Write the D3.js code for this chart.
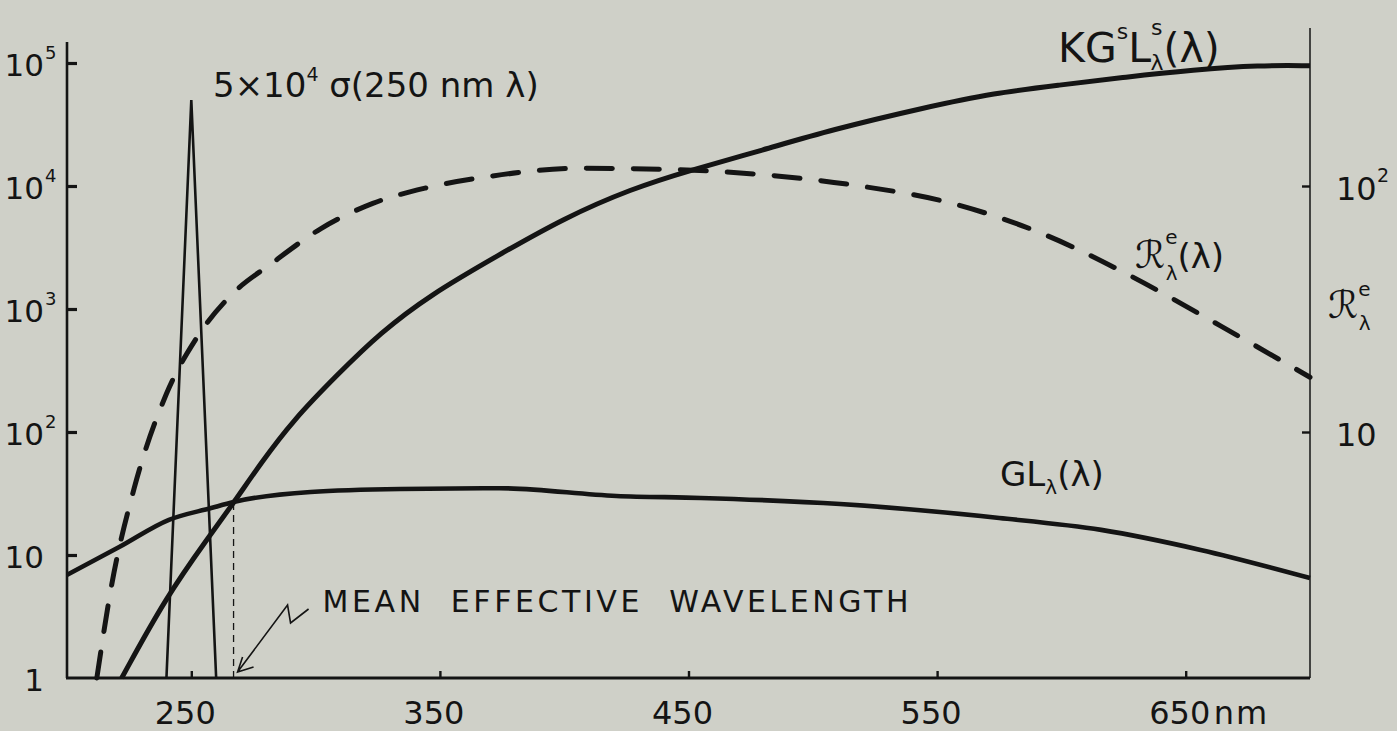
<!DOCTYPE html>
<html>
<head>
<meta charset="utf-8">
<script src="https://cdn.jsdelivr.net/npm/d3@7"></script>
<style>
body { margin: 0; background: #cfd0c8; }
svg { display: block; }
text { font-family: "DejaVu Sans", sans-serif; fill: #141414; }
</style>
</head>
<body>
<div id="chart"></div>
<script>
// wavelength (nm) / value pairs
// G L_lambda(lambda), left log axis
var glWave = [200, 221, 241, 258, 267, 298, 334, 374, 421, 455, 511, 575, 616, 656, 700];
var glValue = [6.9, 11.6, 19.3, 24.1, 27.0, 32.5, 34.4, 34.9, 30.2, 29.1, 26.0, 20.0, 16.0, 11.0, 6.5];
// K G^s L^s_lambda(lambda), left log axis
var kgWave = [222, 240, 257, 267, 278, 291, 309, 326, 346, 373, 400, 427, 451, 480, 507, 546, 573, 599, 626, 653, 680, 700];
var kgValue = [1, 4.6, 14, 26.5, 56, 125, 296, 640, 1300, 2700, 5500, 9500, 13500, 19600, 28500, 43900, 57000, 66000, 77000, 88000, 96000, 95000];
// R^e_lambda(lambda), right log axis
var reWave = [212, 218, 227, 240, 252, 266, 283, 302, 323, 344, 369, 406, 439, 476, 516, 556, 594, 628, 664, 700];
var reValue = [1, 2.4, 5.9, 14.3, 24, 36, 49, 67, 85, 98, 109, 118, 117, 112, 101, 85, 63, 43, 27, 16.7];
// 5x10^4 sigma(250 nm lambda) triangle
var spikeWave = [240, 250, 260];
var spikeValue = [1, 50000, 1];
// mean effective wavelength (GL and KG cross here)
var meanWave = 267;
var meanValue = 27;

var xTicks = [250, 350, 450, 550, 650];
var xTickLabels = ["250", "350", "450", "550", "650"];
var leftTicks = [1, 10, 100, 1000, 10000, 100000];
var leftTickBase = ["1", "10", "10", "10", "10", "10"];
var leftTickExp = ["", "", "2", "3", "4", "5"];
var rightTicks = [10, 100];
var rightTickBase = ["10", "10"];
var rightTickExp = ["", "2"];

var width = 1397, height = 731;
var ink = "#141414";

var svg = d3.select("#chart").append("svg")
	.attr("width", width).attr("height", height);

var x = d3.scaleLinear().domain([200, 700]).range([67, 1310]);
var y = d3.scaleLog().domain([1, 1e5]).range([678, 63]);
// right axis: one decade of R^e spans two decades of the left axis
var yR = d3.scaleLog().domain([1, Math.sqrt(1e5)]).range(y.range());

function pairs(w, v) {
	return w.map(function(d, i) { return [d, v[i]]; });
}

// ---- axes ----
var axisG = svg.append("g");
// left
axisG.append("line").attr("x1", x(200)).attr("x2", x(200))
	.attr("y1", 42).attr("y2", y(1))
	.attr("stroke", ink).attr("stroke-width", 2.6);
var leftAxis = axisG.append("g").attr("transform", "translate(" + x(200) + ",0)")
	.call(d3.axisRight(y).tickValues(leftTicks.slice(1)).tickSize(10).tickSizeOuter(0).tickFormat(""));
leftAxis.select(".domain").remove();
leftAxis.selectAll(".tick line").attr("stroke", ink).attr("stroke-width", 3.2);
// bottom
axisG.append("line").attr("x1", x(200) - 1).attr("x2", x(700))
	.attr("y1", y(1)).attr("y2", y(1))
	.attr("stroke", ink).attr("stroke-width", 3);
var bottomAxis = axisG.append("g").attr("transform", "translate(0," + y(1) + ")")
	.call(d3.axisTop(x).tickValues(xTicks).tickSize(7).tickSizeOuter(0).tickFormat(""));
bottomAxis.select(".domain").remove();
bottomAxis.selectAll(".tick line").attr("stroke", ink).attr("stroke-width", 2.4);
// right
axisG.append("line").attr("x1", x(700)).attr("x2", x(700))
	.attr("y1", 28).attr("y2", y(1))
	.attr("stroke", ink).attr("stroke-width", 1.5);
var rightAxis = axisG.append("g").attr("transform", "translate(" + x(700) + ",0)")
	.call(d3.axisLeft(yR).tickValues(rightTicks).tickSize(8).tickSizeOuter(0).tickFormat(""));
rightAxis.select(".domain").remove();
rightAxis.selectAll(".tick line").attr("stroke", ink).attr("stroke-width", 2.4);

// tick labels
leftTicks.forEach(function(t, i) {
	var ty = y(t) + 13;
	svg.append("text").attr("x", 44).attr("y", ty)
		.attr("text-anchor", "end").attr("font-size", 31).text(leftTickBase[i]);
	if (leftTickExp[i]) {
		svg.append("text").attr("x", 45).attr("y", ty - 17)
			.attr("font-size", 18).text(leftTickExp[i]);
	}
});
rightTicks.forEach(function(t, i) {
	var ty = yR(t) + 14;
	var tx = 1336;
	svg.append("text").attr("x", tx).attr("y", ty)
		.attr("font-size", 32).text(rightTickBase[i]);
	if (rightTickExp[i]) {
		svg.append("text").attr("x", tx + 41).attr("y", ty - 18)
			.attr("font-size", 19).text(rightTickExp[i]);
	}
});
xTicks.forEach(function(t, i) {
	svg.append("text").attr("x", x(t) - 6).attr("y", 724)
		.attr("text-anchor", "middle").attr("font-size", 32).text(xTickLabels[i]);
});
svg.append("text").attr("x", x(650) + 28).attr("y", 724)
	.attr("font-size", 32).attr("letter-spacing", 2).text("nm");

// right axis title R^e_lambda
var rLab = svg.append("text").attr("x", 1328).attr("y", 318).attr("font-size", 38);
rLab.append("tspan").attr("font-style", "italic").text("\u211B");
rLab.append("tspan").attr("font-size", 20).attr("dy", -22).text("e");
rLab.append("tspan").attr("font-size", 20).attr("dx", -12).attr("dy", 34).text("\u03BB");

// ---- curves ----
var lineL = d3.line().x(function(d) { return x(d[0]); }).y(function(d) { return y(d[1]); })
	.curve(d3.curveMonotoneX);
var lineSmooth = d3.line().x(function(d) { return x(d[0]); }).y(function(d) { return y(d[1]); })
	.curve(d3.curveBasis);
var lineR = d3.line().x(function(d) { return x(d[0]); }).y(function(d) { return yR(d[1]); })
	.curve(d3.curveMonotoneX);
var lineSpike = d3.line().x(function(d) { return x(d[0]); }).y(function(d) { return y(d[1]); });

svg.append("path").datum(pairs(spikeWave, spikeValue))
	.attr("d", lineSpike).attr("fill", "none")
	.attr("stroke", ink).attr("stroke-width", 2.6).attr("stroke-linejoin", "miter");

svg.append("path").datum(pairs(reWave, reValue))
	.attr("d", lineR).attr("fill", "none")
	.attr("stroke", ink).attr("stroke-width", 5)
	.attr("stroke-dasharray", "26,21").attr("stroke-linecap", "round");

svg.append("path").datum(pairs(kgWave, kgValue))
	.attr("d", lineSmooth).attr("fill", "none")
	.attr("stroke", ink).attr("stroke-width", 5);

svg.append("path").datum(pairs(glWave, glValue))
	.attr("d", lineL).attr("fill", "none")
	.attr("stroke", ink).attr("stroke-width", 4.6);

// mean effective wavelength marker
svg.append("line").attr("x1", x(meanWave)).attr("x2", x(meanWave))
	.attr("y1", y(1)).attr("y2", y(meanValue))
	.attr("stroke", ink).attr("stroke-width", 1.3).attr("stroke-dasharray", "7,5");

var tipX = x(meanWave) + 4, tipY = y(1) - 6;
svg.append("path")
	.attr("d", "M" + (tipX + 71) + "," + (tipY - 63) + "L" + (tipX + 53) + "," + (tipY - 49)
		+ "L" + (tipX + 50) + "," + (tipY - 67) + "L" + tipX + "," + tipY
		+ "M" + (tipX + 5) + "," + (tipY - 15) + "L" + tipX + "," + tipY + "L" + (tipX + 16) + "," + (tipY - 5))
	.attr("fill", "none").attr("stroke", ink).attr("stroke-width", 1.6);
svg.append("text").attr("x", tipX + 85).attr("y", tipY - 60)
	.attr("font-size", 30).attr("textLength", 586).attr("lengthAdjust", "spacing")
	.style("white-space", "pre").text("MEAN  EFFECTIVE  WAVELENGTH");

// ---- curve labels ----
var sLab = svg.append("text").attr("x", 213).attr("y", 97).attr("font-size", 34);
sLab.append("tspan").text("5\u00D710");
sLab.append("tspan").attr("font-size", 19).attr("dy", -16).text("4");
sLab.append("tspan").attr("dy", 16).text(" \u03C3(250 nm  \u03BB)");

var kLab = svg.append("text").attr("x", 1058).attr("y", 62).attr("font-size", 41);
kLab.append("tspan").text("KG");
kLab.append("tspan").attr("font-size", 22).attr("dy", -23).text("s");
kLab.append("tspan").attr("dy", 23).text("L");
kLab.append("tspan").attr("font-size", 22).attr("dy", -27).text("s");
kLab.append("tspan").attr("font-size", 22).attr("dx", -12).attr("dy", 35).text("\u03BB");
kLab.append("tspan").attr("dy", -8).text("(\u03BB)");

var rCurveLab = svg.append("text").attr("x", 1135).attr("y", 268).attr("font-size", 38);
rCurveLab.append("tspan").attr("font-style", "italic").text("\u211B");
rCurveLab.append("tspan").attr("font-size", 20).attr("dy", -24).text("e");
rCurveLab.append("tspan").attr("font-size", 20).attr("dx", -12).attr("dy", 36).text("\u03BB");
rCurveLab.append("tspan").attr("font-size", 34).attr("dy", -12).text("(\u03BB)");

var gLab = svg.append("text").attr("x", 1000).attr("y", 486).attr("font-size", 34);
gLab.append("tspan").text("GL");
gLab.append("tspan").attr("font-size", 20).attr("dy", 8).text("\u03BB");
gLab.append("tspan").attr("dy", -8).text("(\u03BB)");
</script>
</body>
</html>
